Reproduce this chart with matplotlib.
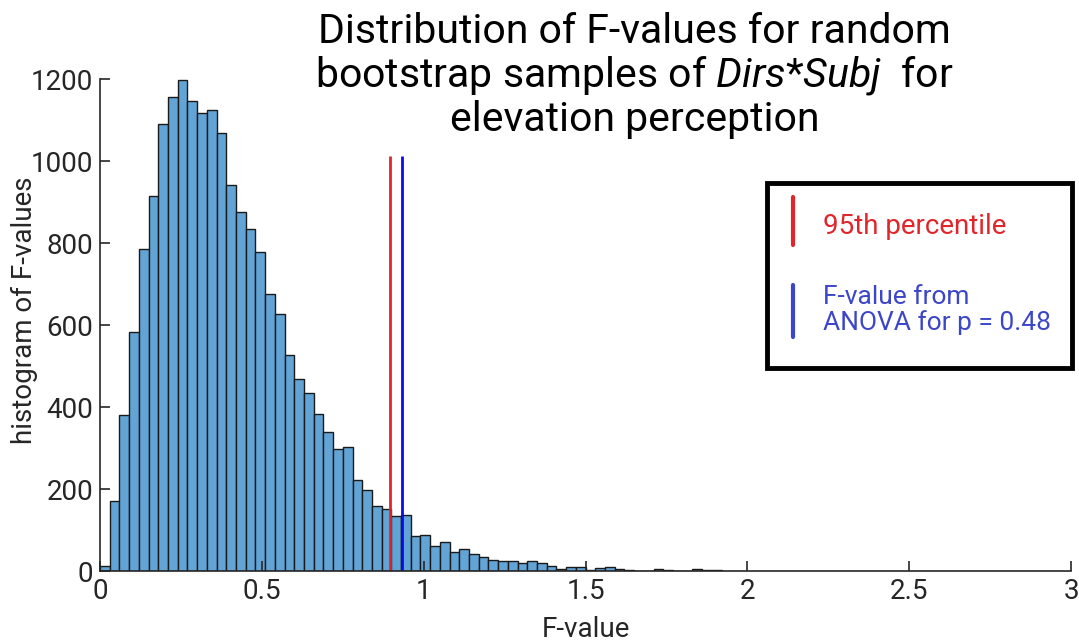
import numpy as np
import matplotlib
matplotlib.use('Agg')
import matplotlib.pyplot as plt
from matplotlib.patches import Rectangle

plt.rcParams['font.family'] = ['Roboto', 'DejaVu Sans']
plt.rcParams['mathtext.fontset'] = 'custom'
plt.rcParams['mathtext.rm'] = 'Roboto'
plt.rcParams['mathtext.it'] = 'Roboto:italic'

# histogram of bootstrap F-values, bin width 0.03 starting at 0
bin_width = 0.03
counts = [13, 170, 381, 584, 787, 916, 1090, 1156, 1198, 1147,
          1117, 1126, 1068, 941, 877, 834, 778, 676, 628, 526,
          469, 434, 384, 340, 297, 303, 221, 198, 159, 152,
          134, 137, 86, 87, 62, 72, 47, 53, 41, 33,
          27, 24, 24, 20, 24, 20, 11, 6, 10, 10,
          3, 7, 10, 4, 2, 0, 0, 6, 2, 0,
          0, 4, 2, 2]
percentile_95 = 0.897
f_anova = 0.932
line_top = 1012

xticks = [0, 0.5, 1, 1.5, 2, 2.5, 3]
xtick_labels = ['0', '0.5', '1', '1.5', '2', '2.5', '3']
yticks = [0, 200, 400, 600, 800, 1000, 1200]

edges = np.arange(len(counts)) * bin_width

fig = plt.figure(figsize=(10.79, 6.41), dpi=100)
ax = fig.add_axes([0.0927, 0.1092, 0.9, 0.7671])

ax.bar(edges, counts, width=bin_width, align='edge',
       color='#62a4d6', edgecolor='#1a1a1a', linewidth=1.0)
ax.vlines(percentile_95, 0, line_top, color='#e0262c', linewidth=2)
ax.vlines(f_anova, 0, line_top, color='#0a0aee', linewidth=2)

ax.set_xlim(0, 3)
ax.set_ylim(0, 1200)
ax.set_xticks(xticks)
ax.set_xticklabels(xtick_labels)
ax.set_yticks(yticks)
ax.tick_params(direction='in', length=7, width=1.2, labelsize=20,
               colors='#262626', pad=5)
for side in ['top', 'right']:
    ax.spines[side].set_visible(False)
for side in ['left', 'bottom']:
    ax.spines[side].set_color('#262626')
    ax.spines[side].set_linewidth(1.2)

ax.set_xlabel('F-value', fontsize=20, color='#262626', labelpad=8)
ax.set_ylabel('histogram of F-values', fontsize=20, color='#262626')
ax.yaxis.set_label_coords(-0.064, 0.53)

fig.text(0.588, 0.982,
         'Distribution of F-values for random\n'
         'bootstrap samples of $\\mathit{Dirs{*}Subj}$  for\n'
         'elevation perception',
         ha='center', va='top', fontsize=29.5, linespacing=1.1, color='black')

# hand-drawn legend box
fig.add_artist(Rectangle((767 / 1079, 1 - 368 / 641), 305 / 1079, 185 / 641,
                         transform=fig.transFigure, fill=False,
                         edgecolor='black', linewidth=3.5))
fig.add_artist(plt.Line2D([793 / 1079] * 2, [1 - 245 / 641, 1 - 197 / 641],
                          transform=fig.transFigure, color='#e0262c',
                          linewidth=3, solid_capstyle='round'))
fig.add_artist(plt.Line2D([793 / 1079] * 2, [1 - 337 / 641, 1 - 285 / 641],
                          transform=fig.transFigure, color='#3c46c8',
                          linewidth=3, solid_capstyle='round'))
fig.text(823 / 1079, 1 - 227 / 641, '95th percentile', color='#e0262c',
         fontsize=20, va='center', ha='left')
fig.text(823 / 1079, 1 - 310 / 641, 'F-value from\nANOVA for p = 0.48',
         color='#3c46c8', fontsize=19, va='center', ha='left', linespacing=1.1)

fig.savefig('out.png', dpi=100)
